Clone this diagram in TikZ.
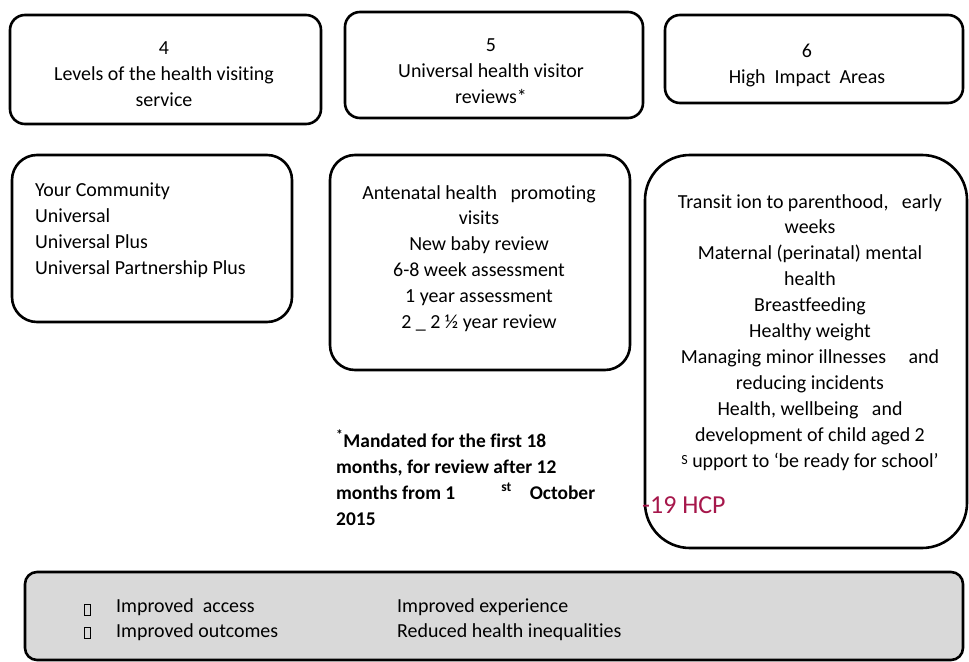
\documentclass[tikz,border=0pt]{standalone}
\usepackage{fontspec}
\setmainfont[Ligatures={NoCommon,NoRequired,NoContextual}]{Carlito}
\begin{document}
\begin{tikzpicture}[x=1bp,y=-1bp,
    roundbox/.style={draw=black,line width=2.6bp,rounded corners=#1},
    roundbox/.default=15bp,
    boxtext/.style={inner sep=0pt,align=center,font=\fontsize{20}{26}\selectfont},
    listtext/.style={inner sep=0pt,align=left,font=\fontsize{20}{26}\selectfont},
    tickmark/.style={draw=black,line width=0.8bp,inner sep=0pt,minimum width=6bp,minimum height=11bp}]
	\useasboundingbox (0,0) rectangle (969,662);

	% Headings
	\draw[roundbox] (10,15) rectangle (321,124);
	\draw[roundbox] (345,12) rectangle (643,118);
	\draw[roundbox] (665,15) rectangle (963,103);
	\node[boxtext,anchor=north] (levelshead) at (164,42) {4\\Levels of the health visiting\\service};
	\node[boxtext,anchor=north] (reviewshead) at (491,39) {5\\Universal health visitor\\reviews*};
	\node[boxtext,anchor=north] (areashead) at (807,44) {6\\High\ \ Impact\ \ Areas};

	% Contents
	\draw[roundbox=25bp] (12,155) rectangle (292,322);
	\draw[roundbox=25bp] (330,155) rectangle (630,370);
	\draw[roundbox=45bp] (645,155) rectangle (967,548);
	\node[listtext,anchor=north west] (levels) at (35,183) {Your Community\\Universal\\Universal Plus\\Universal Partnership Plus};
	\node[boxtext,anchor=north] (reviews) at (479,185) {Antenatal health \ \ promoting\\visits\\New baby review\\6-8 week assessment\\1 year assessment\\2 \_ 2 ½ year review};
	\node[boxtext,anchor=north] (areas) at (810,194) {Transit ion to parenthood, \ \ early\\weeks\\Maternal (perinatal) mental\\health\\Breastfeeding\\Healthy weight\\Managing minor illnesses \ \ \ \ and\\reducing incidents\\Health, wellbeing \ \ and\\development of child aged 2\\\raisebox{3bp}{\fontsize{14}{14}\selectfont S} upport to ‘be ready for school’};

	% Footnote and 0-19
	\node[listtext,anchor=north west,font=\fontsize{19.5}{26}\selectfont\bfseries] (footnote) at (336,430) {\textsuperscript{*}Mandated for the first 18\\months, for review after 12\\months from 1\hspace{46bp}\textsuperscript{st}\hspace{18bp}October\\2015};
	\node[inner sep=0pt,anchor=west,text={rgb,255:red,166;green,23;blue,75},font=\fontsize{26}{30}\selectfont] (hcp) at (642,505) {-19 HCP};

	% Outcomes
	\draw[roundbox=12bp,fill={rgb,255:red,217;green,217;blue,217}] (25,572) rectangle (963,660);
	\node[tickmark] (markone) at (87,610) {};
	\node[tickmark] (marktwo) at (87,633) {};
	\node[listtext,anchor=north west] (outleft) at (116,598) {Improved\ \ access\\Improved outcomes};
	\node[listtext,anchor=north west] (outright) at (397,598) {Improved experience\\Reduced health inequalities};
\end{tikzpicture}
\end{document}
